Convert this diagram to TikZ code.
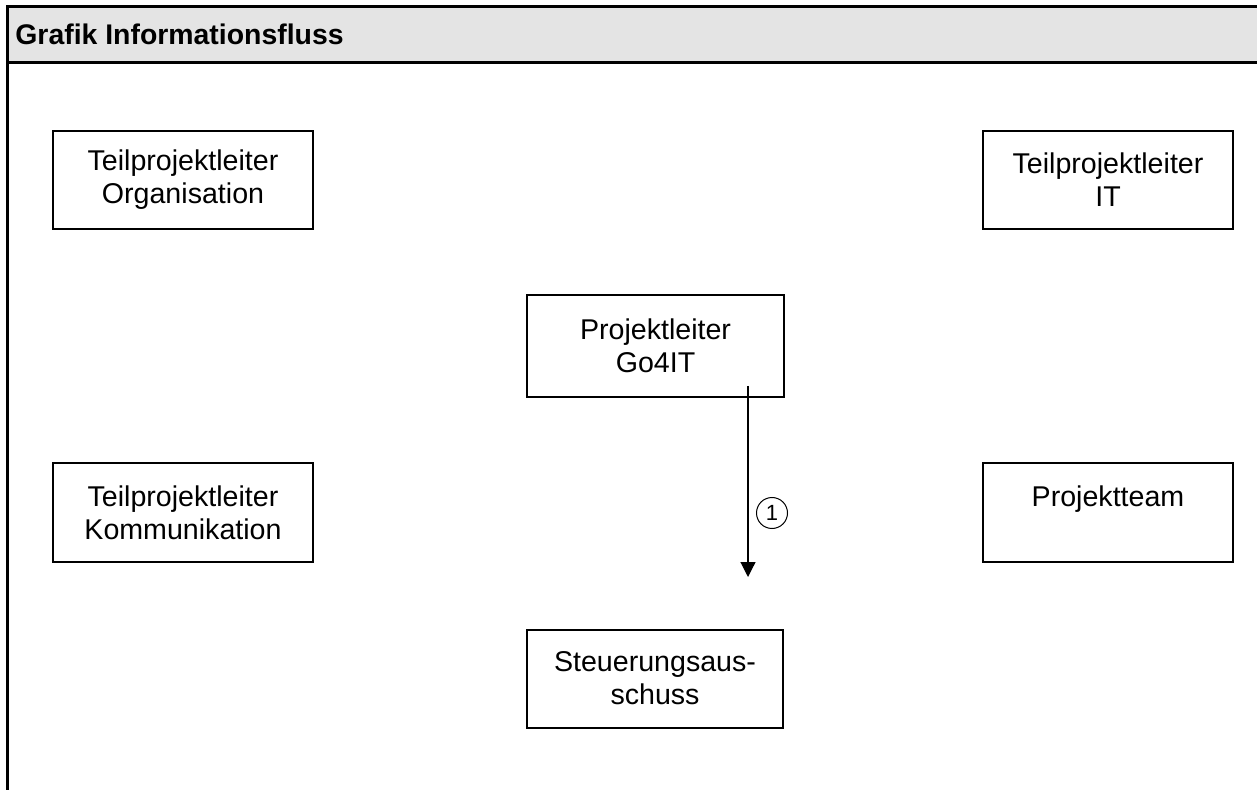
\documentclass[tikz,border=0pt]{standalone}
\usepackage{fontspec}
\setmainfont{Liberation Sans}
\usetikzlibrary{arrows.meta}
\definecolor{headgray}{RGB}{228,228,228}
\begin{document}
\begin{tikzpicture}[x=0.5pt,y=-0.5pt]
    \tikzstyle{box}=[draw, line width=1pt, align=center, inner sep=0pt,
        font=\fontsize{14.3}{16.5}\selectfont, minimum height=49pt]
    \useasboundingbox (0,0) rectangle (1257,790);

    \fill[headgray] (7,7) rectangle (1257,63);
    \draw[line width=1.5pt] (1257,7) -- (7,7) -- (7,790);
    \draw[line width=1.5pt] (7,63) -- (1257,63);
    \node(head) [anchor=base west, inner sep=0pt, font=\bfseries\fontsize{14.2}{16.5}\selectfont] at (15,45) {Grafik Informationsfluss};

    \node(tpl_org) [box, minimum width=130pt] at (183,180) {Teilprojektleiter\\Organisation};
    \node(tpl_it) [box, minimum width=125pt] at (1108,180) {Teilprojektleiter\\IT};
    \node(pl_go) [box, minimum width=128.5pt, minimum height=51pt] at (655.5,346) {Projektleiter\\Go4IT};
    \node(tpl_komm) [box, minimum width=130pt] at (183,512.5) {Teilprojektleiter\\Kommunikation};
    \node(p_team) [box, minimum width=125pt] at (1108,512.5) {Projektteam\\~};
    \node(sa) [box, minimum width=128pt] at (655,678.5) {Steuerungsaus-\\schuss};

    \coordinate(pl_out) at (748,386);
    \coordinate(sa_in) at (748,577);
    \draw [line width=0.6pt, -{Triangle[width=7.5pt,length=7.5pt]}] (pl_out) -- (sa_in);
    \node(c_1) [draw, circle, line width=0.5pt, minimum size=15.5pt, inner sep=0pt, font=\fontsize{11}{13}\selectfont] at (772,513) {1};

\end{tikzpicture}
\end{document}
